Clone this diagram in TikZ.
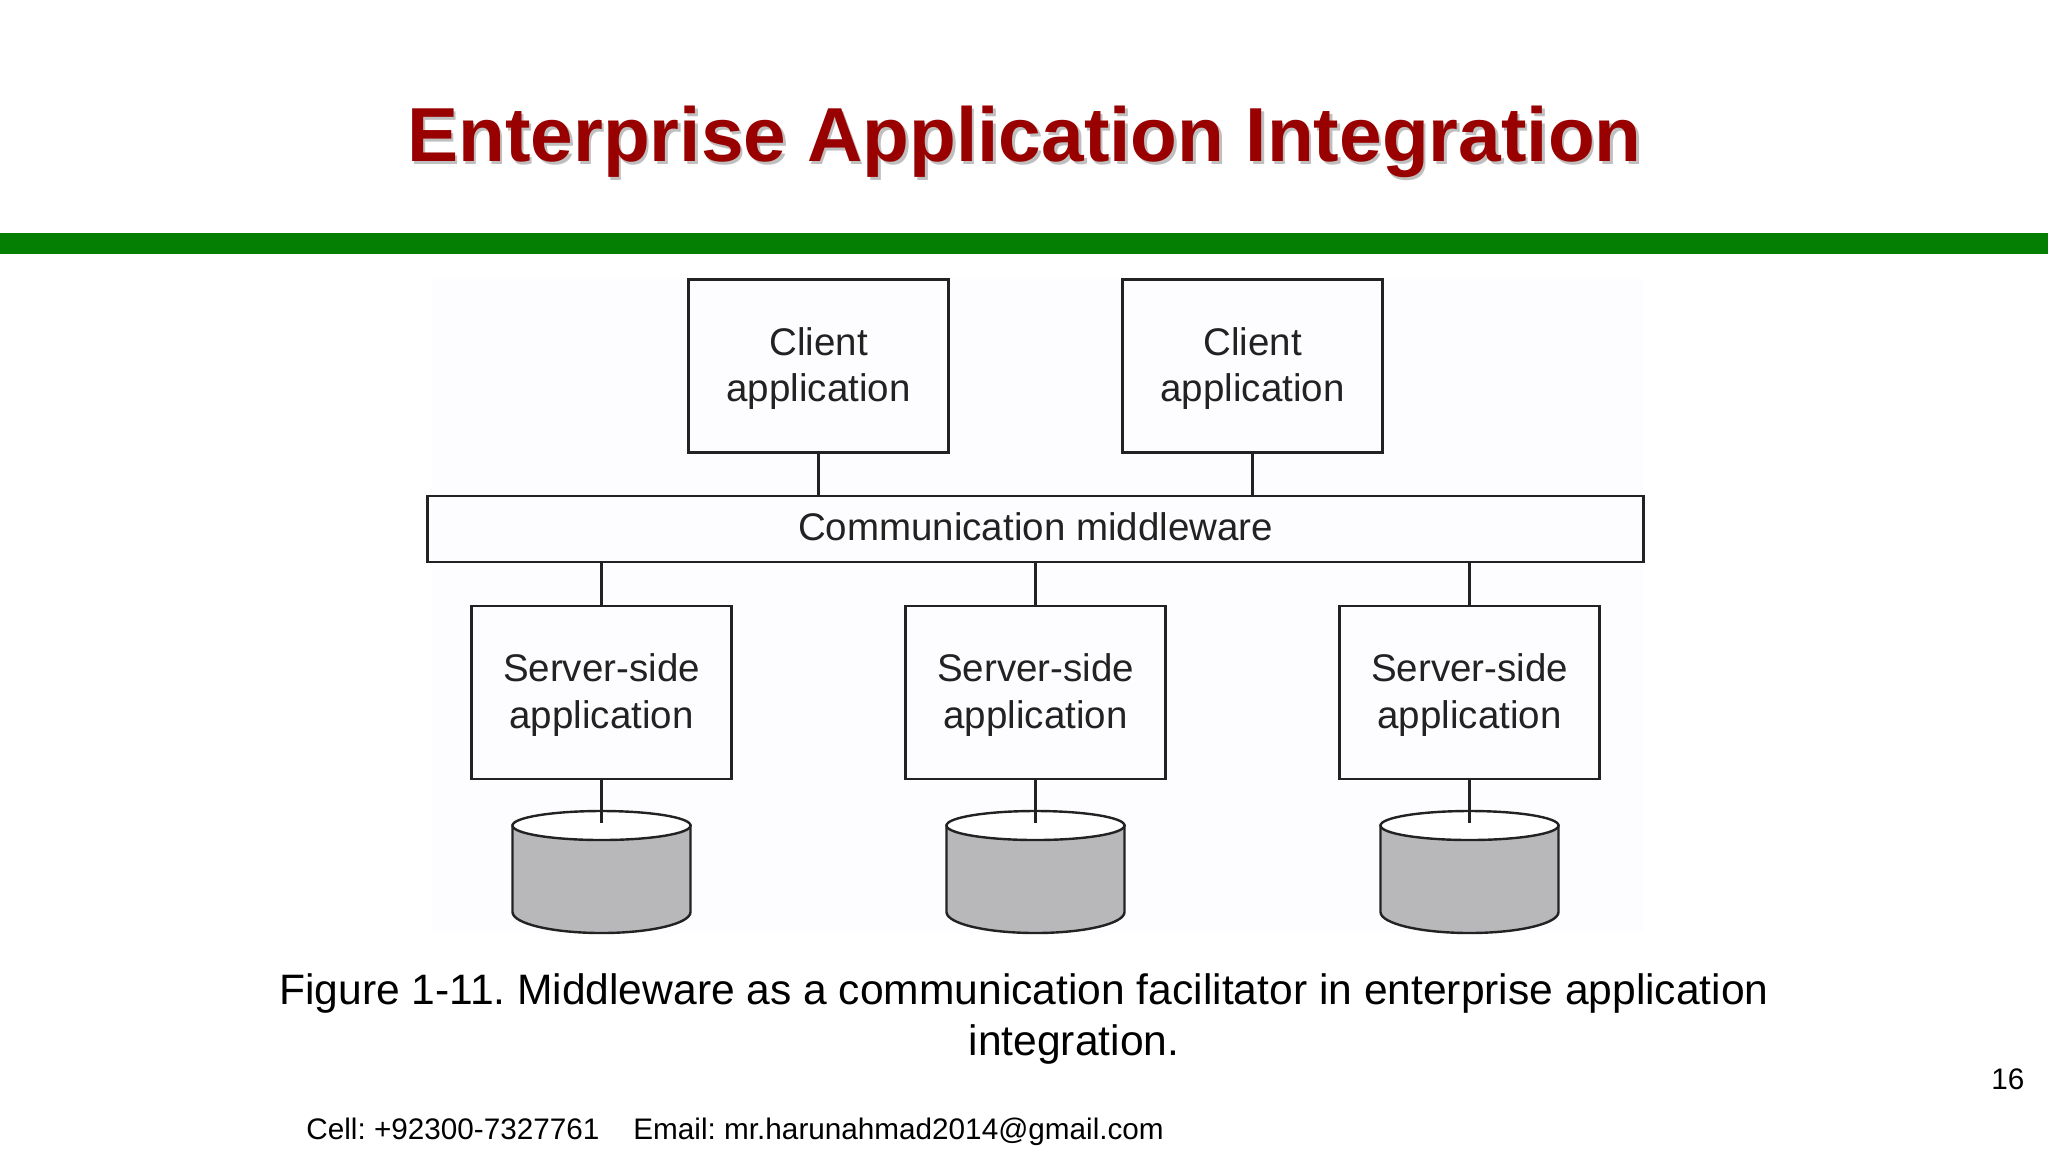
\documentclass[tikz,border=0pt]{standalone}
\usepackage{fontspec}
\setmainfont{Liberation Sans}
\usetikzlibrary{positioning}
\definecolor{titlered}{HTML}{990000}
\definecolor{bargreen}{HTML}{047F04}
\definecolor{dbgray}{HTML}{B8B7BA}
\definecolor{figbg}{HTML}{FDFCFE}
\definecolor{ink}{HTML}{222222}
\tikzset{app/.style={draw=ink,line width=1.2pt,minimum width=130pt,minimum height=86.5pt,inner sep=0pt,align=center,text=ink,text depth=1.45pt,font=\fontsize{19.25}{23.2}\selectfont}}
\tikzset{bus/.style={draw=ink,line width=1.2pt,minimum width=608pt,minimum height=33pt,inner sep=0pt,text=ink,text depth=2.6pt,font=\fontsize{19.25}{23.2}\selectfont}}
\tikzset{link/.style={ink,line width=1.2pt}}
\tikzset{capt/.style={anchor=base,inner sep=0pt,font=\fontsize{21.28}{25}\selectfont}}
\tikzset{foot/.style={anchor=base west,inner sep=0pt,font=\fontsize{14.85}{17}\selectfont}}
\tikzset{head/.style={anchor=base,inner sep=0pt,font=\fontsize{38.3}{44}\selectfont\bfseries}}
\tikzset{pics/can/.style={code={
        \draw[link,fill=dbgray] (-89,-46.5) -- (-89,40)
         .. controls (-89,51.6) and (-49,61) .. (0,61)
         .. controls (49,61) and (89,51.6) .. (89,40)
         -- (89,-46.5) -- cycle;
        \draw[link,fill=white] (0,-46.5) ellipse [x radius=89, y radius=14.5];
}}}

\begin{document}
\frenchspacing
\begin{tikzpicture}[x=0.5pt,y=-0.5pt]
        \useasboundingbox (0,0) rectangle (2048,1152);
        \fill[white] (0,0) rectangle (2048,1152);
        \fill[figbg] (432,279) rectangle (1643,933);
        \fill[bargreen] (0,233) rectangle (2048,254);

        \node[head,text=black!25] (shadow) at (1027,164) {Enterprise Application Integration};
        \node[head,text=titlered] (title) at (1024.5,161) {Enterprise Application Integration};

        \begin{scope}[on grid]

        \node[app] (cl1) at (818.5,366) {Client\\application};
        \node[app, right = 217pt of cl1] (cl2) {Client\\application};

        \node[bus] (mw) at (1035.5,529) {Communication middleware};

        \node[app] (sv2) at (1035.5,692.5) {Server-side\\application};
        \node[app, left = 217pt of sv2] (sv1) {Server-side\\application};
        \node[app, right = 217pt of sv2] (sv3) {Server-side\\application};

        \coordinate[below = 89.75pt of sv1] (db1);
        \coordinate[below = 89.75pt of sv2] (db2);
        \coordinate[below = 89.75pt of sv3] (db3);

        \coordinate[below = 65pt of sv1] (end1);
        \coordinate[below = 65pt of sv2] (end2);
        \coordinate[below = 65pt of sv3] (end3);
        \end{scope}

        \pic at (db1) {can};
        \pic at (db2) {can};
        \pic at (db3) {can};

        \draw[link] (cl1.south) -- (cl1 |- mw.north);
        \draw[link] (cl2.south) -- (cl2 |- mw.north);
        \draw[link] (sv1 |- mw.south) -- (sv1.north);
        \draw[link] (sv2 |- mw.south) -- (sv2.north);
        \draw[link] (sv3 |- mw.south) -- (sv3.north);

        \draw[link] (sv1.south) -- (end1);
        \draw[link] (sv2.south) -- (end2);
        \draw[link] (sv3.south) -- (end3);

        \node[capt] (cap1) at (1024,1004) {Figure 1-11. Middleware as a communication facilitator in enterprise application};
        \node[capt] (cap2) at (1074,1055) {integration.};
        \node[foot] (page) at (1991,1089) {16};
        \node[foot] (contact) at (306,1139) {Cell: +92300-7327761\hspace{17pt}Email: mr.harunahmad2014@gmail.com};
\end{tikzpicture}
\end{document}
